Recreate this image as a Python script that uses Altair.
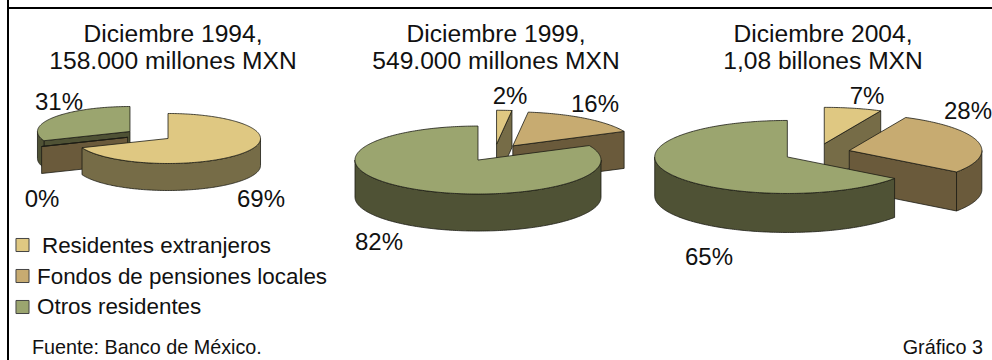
import math
import altair as alt

W, H = 992, 360

# Holdings by investor group, in percent, for each year-end
categories = ["Residentes extranjeros", "Fondos de pensiones locales", "Otros residentes"]
shares_1994 = [69, 0, 31]
shares_1999 = [2, 16, 82]
shares_2004 = [7, 28, 65]
titles_1994 = ["Diciembre 1994,", "158.000 millones MXN"]
titles_1999 = ["Diciembre 1999,", "549.000 millones MXN"]
titles_2004 = ["Diciembre 2004,", "1,08 billones MXN"]
source_note = "Fuente: Banco de México."
chart_tag = "Gráfico 3"

# Drawing styles for each group
top_colours = ["#DFC882", "#C7AB71", "#9BA56F"]
side_colours = ["#766C47", "#6A5A3B", "#4F5235"]
edge_colour = "#1c1c14"

# Geometry of each exploded pie: centre, radii, thickness, explosion distance
pies = [
    dict(shares=shares_1994, titles=titles_1994, cx=149.0, cy=135.0, rx=92.5, ry=25.0, depth=27, burst=23, title_x=173,
         label_pos=[(261, 207), (42, 207), (59, 110)]),
    dict(shares=shares_1999, titles=titles_1999, cx=494.6, cy=152.8, rx=123.0, ry=34.0, depth=37, burst=31, title_x=496,
         label_pos=[(510, 104), (595, 112), (379, 250)]),
    dict(shares=shares_2004, titles=titles_2004, cx=817.0, cy=152.8, rx=132.6, ry=36.5, depth=39, burst=33.3, title_x=823,
         label_pos=[(867, 104), (968, 119), (709, 265)]),
]


def feature(ring, fill):
    closed = [list(p) for p in ring] + [list(ring[0])]
    return {"type": "Feature", "properties": {"fill": fill},
            "geometry": {"type": "Polygon", "coordinates": [closed]}}


def arc_points(cx, cy, rx, ry, a0, a1):
    steps = max(1, int(abs(a1 - a0)))
    pts = []
    for i in range(steps + 1):
        a = math.radians(a0 + (a1 - a0) * i / steps)
        pts.append((cx + rx * math.sin(a), cy - ry * math.cos(a)))
    return pts


def slice_features(pie, idx, a0, a1):
    mid = math.radians((a0 + a1) / 2)
    ax = pie["cx"] + pie["burst"] * math.sin(mid)
    ay = pie["cy"] - pie["burst"] * pie["ry"] / pie["rx"] * math.cos(mid)
    rx, ry, d = pie["rx"], pie["ry"], pie["depth"]
    side, top = side_colours[idx], top_colours[idx]
    out = []

    def wall(angle):
        a = math.radians(angle)
        ox, oy = ax + rx * math.sin(a), ay - ry * math.cos(a)
        out.append(feature([(ax, ay), (ox, oy), (ox, oy + d), (ax, ay + d)], side))

    # Cut faces turned towards the viewer
    if 180 < a0 % 360 < 360:
        wall(a0)
    if 0 < a1 % 360 < 180:
        wall(a1)
    # Curved rim on the near half of the ellipse
    lo, hi = max(a0, 90), min(a1, 270)
    if hi > lo:
        upper = arc_points(ax, ay, rx, ry, lo, hi)
        lower = [(x, y + d) for x, y in reversed(upper)]
        out.append(feature(upper + lower, side))
    out.append(feature([(ax, ay)] + arc_points(ax, ay, rx, ry, a0, a1), top))
    return ay, out


shapes, percent_rows, title_rows = [], [], []
for pie in pies:
    start = 0.0
    slices = []
    for i, share in enumerate(pie["shares"]):
        end = start + share * 3.6
        slices.append(slice_features(pie, i, start, end))
        start = end
        lx, ly = pie["label_pos"][i]
        percent_rows.append({"x": lx, "y": ly, "t": f"{share}%"})
    # Farther slices are painted first
    for _, feats in sorted(slices, key=lambda s: s[0]):
        shapes.extend(feats)
    title_rows.append({"x": pie["title_x"], "y": 42, "t": pie["titles"][0]})
    title_rows.append({"x": pie["title_x"], "y": 69, "t": pie["titles"][1]})

x_scale = alt.Scale(domain=[0, W], range=[0, W])
y_scale = alt.Scale(domain=[0, H], range=[0, H])
X = alt.X("x:Q", scale=x_scale, axis=None)
Y = alt.Y("y:Q", scale=y_scale, axis=None)
FONT = "Liberation Sans"

pie_layer = (
    alt.Chart(alt.Data(values=shapes))
    .mark_geoshape(stroke=edge_colour, strokeWidth=0.8, strokeJoin="round")
    .encode(fill=alt.Fill("properties.fill:N", scale=None))
    .project(type="identity", scale=1, translate=[0, 0])
)

title_text = (
    alt.Chart(alt.Data(values=title_rows))
    .mark_text(font=FONT, fontSize=24.6, align="center", baseline="alphabetic", color="#111111")
    .encode(x=X, y=Y, text="t:N")
)
percent_text = (
    alt.Chart(alt.Data(values=percent_rows))
    .mark_text(font=FONT, fontSize=24, align="center", baseline="alphabetic", color="#111111")
    .encode(x=X, y=Y, text="t:N")
)

legend_rows = [
    {"x": 22.5, "y": 245, "c": top_colours[0], "t": categories[0], "tx": 42, "ty": 253},
    {"x": 22.5, "y": 276, "c": top_colours[1], "t": categories[1], "tx": 37, "ty": 284},
    {"x": 22.5, "y": 307, "c": top_colours[2], "t": categories[2], "tx": 37, "ty": 314},
]
legend_marks = (
    alt.Chart(alt.Data(values=legend_rows))
    .mark_point(shape="square", filled=True, size=170, stroke="#444444", strokeWidth=1, opacity=1)
    .encode(x=X, y=Y, fill=alt.Fill("c:N", scale=None))
)
legend_text = (
    alt.Chart(alt.Data(values=legend_rows))
    .mark_text(font=FONT, fontSize=22.4, align="left", baseline="alphabetic", color="#111111")
    .encode(x=alt.X("tx:Q", scale=x_scale, axis=None), y=alt.Y("ty:Q", scale=y_scale, axis=None), text="t:N")
)

note_left = (
    alt.Chart(alt.Data(values=[{"x": 32, "y": 354, "t": source_note}]))
    .mark_text(font=FONT, fontSize=19.8, align="left", baseline="alphabetic", color="#111111")
    .encode(x=X, y=Y, text="t:N")
)
note_right = (
    alt.Chart(alt.Data(values=[{"x": 983, "y": 354, "t": chart_tag}]))
    .mark_text(font=FONT, fontSize=19.8, align="right", baseline="alphabetic", color="#111111")
    .encode(x=X, y=Y, text="t:N")
)

frame_rows = [
    {"x": 8, "x2": 8, "y": 0, "y2": H},
    {"x": 8, "x2": W, "y": 8, "y2": 8},
]
frame = (
    alt.Chart(alt.Data(values=frame_rows))
    .mark_rule(color="#000000", strokeWidth=2)
    .encode(x=X, x2="x2:Q", y=Y, y2="y2:Q")
)

chart = (
    alt.layer(frame, pie_layer, title_text, percent_text, legend_marks, legend_text, note_left, note_right)
    .properties(width=W, height=H, padding=0, background="white", autosize=alt.AutoSizeParams(type="none"))
    .configure_view(stroke=None)
)

chart.save("out.html", embed_options={"renderer": "svg", "actions": False})
